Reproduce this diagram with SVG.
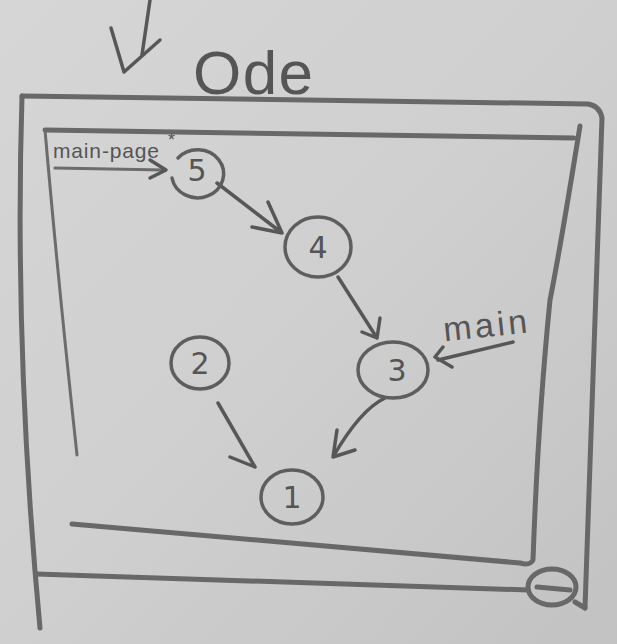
<svg xmlns="http://www.w3.org/2000/svg" width="617" height="644" viewBox="0 0 617 644">
<defs>
<linearGradient id="bg" x1="0" y1="0" x2="1" y2="1">
<stop offset="0" stop-color="#d6d6d6"/>
<stop offset="0.5" stop-color="#cfcfcf"/>
<stop offset="1" stop-color="#c2c2c2"/>
</linearGradient>
<style>
.frame{fill:none;stroke:#686868;stroke-width:5;stroke-linecap:round;stroke-linejoin:round}
.thin{fill:none;stroke:#6c6c6c;stroke-width:3;stroke-linecap:round}
.node{fill:none;stroke:#5e5e5e;stroke-width:3.5;stroke-linecap:round}
.edge{fill:none;stroke:#575757;stroke-width:3.5;stroke-linecap:round;stroke-linejoin:round}
.num{font-family:"DejaVu Sans",sans-serif;font-size:30px;fill:#555;text-anchor:middle}
.hand{font-family:"Liberation Sans",sans-serif;fill:#555}
</style>
</defs>
<rect width="617" height="644" fill="url(#bg)"/>

<!-- top arrow and title -->
<g id="top-arrow" class="edge">
<path d="M150,0 L142,55"/>
<path d="M111,28 L124,72 L160,40"/>
</g>
<text id="title" class="hand" x="193" y="94" font-size="62" textLength="120" fill="#5a5a5a">Ode</text>

<!-- frame -->
<g id="frame">
<path class="frame" d="M22,96 L588,104 Q600,106 602,118 L585,608"/>
<path class="frame" d="M36,574 L528,590 M575,602 L585,608"/>
<path class="frame" d="M22,96 Q14,350 40,628"/>
<path class="frame" d="M45,130 L574,138"/>
<path class="thin" d="M45,130 Q58,280 77,455"/>
<path class="frame" d="M580,126 Q560,250 550,300 Q538,420 533,560 Q530,566 520,563 L72,524"/>
<ellipse class="frame" cx="552" cy="587" rx="24" ry="18"/>
<path class="frame" d="M537,587 L570,590"/>
</g>

<g id="connectors">
<path class="thin" d="M55,168 L164,170"/>
<path class="edge" d="M150,160 L166,170 L150,178"/>
<path class="edge" d="M217,183 L282,233 M268,202 L282,233 L252,227"/>
<path class="edge" d="M338,277 L377,338 M380,318 L377,338 L362,332"/>
<path class="edge" d="M385,398 Q360,410 333,457 M337,430 L333,457 L355,450"/>
<path class="edge" d="M218,403 L255,467 M230,457 L255,467"/>
<path class="edge" d="M513,342 L438,360 M443,347 L435,357 L452,367"/>
</g>

<g id="label-main-page">
<text class="hand" x="53" y="158" font-size="21" textLength="106">main-page</text>
<text class="hand" x="168" y="146" font-size="18">*</text>
</g>
<g id="label-main">
<text class="hand" x="443" y="337" font-size="34" textLength="84" transform="rotate(-6 485 325)">main</text>
</g>

<g id="node5">
<path class="node" d="M178,158 A26,24 0 1 1 172,178"/>
<text class="num" x="197" y="181">5</text>
</g>
<g id="node4">
<ellipse class="node" cx="318" cy="247" rx="33" ry="30"/>
<text class="num" x="318" y="258">4</text>
</g>
<g id="node3">
<ellipse class="node" cx="393" cy="370" rx="35" ry="28"/>
<text class="num" x="397" y="381">3</text>
</g>
<g id="node2">
<ellipse class="node" cx="200" cy="363" rx="29" ry="26"/>
<text class="num" x="200" y="374">2</text>
</g>
<g id="node1">
<ellipse class="node" cx="292" cy="497" rx="31" ry="27"/>
<text class="num" x="292" y="508">1</text>
</g>
</svg>
